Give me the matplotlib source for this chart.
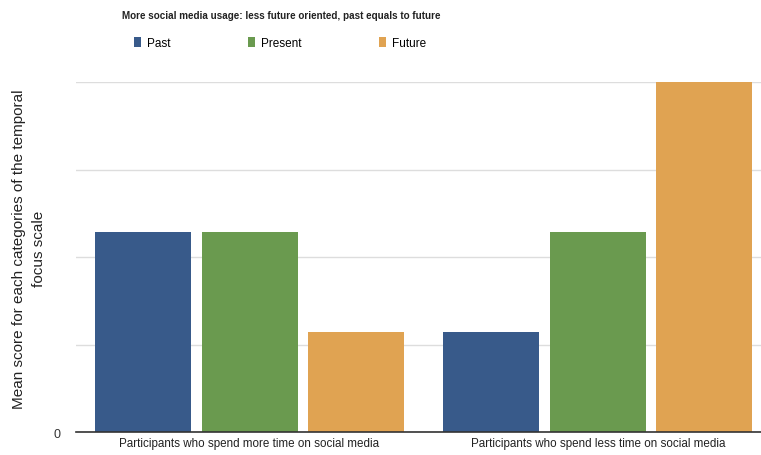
import matplotlib.pyplot as plt
import numpy as np

plt.rcParams['font.family'] = ['Liberation Sans', 'DejaVu Sans']

categories = ['Participants who spend more time on social media',
              'Participants who spend less time on social media']
series_names = ['Past', 'Present', 'Future']
past = [2.29, 1.14]
present = [2.29, 2.29]
future = [1.14, 4.0]
colors = ['#385a8a', '#6a9a4f', '#e0a352']

fig = plt.figure(figsize=(7.61, 4.56), dpi=100)
ax = fig.add_axes([0.0999, 0.0504, 0.9001, 0.767])

x = np.arange(len(categories))
width = 0.2755
offset = 0.3056
for i, (vals, name) in enumerate(zip([past, present, future], series_names)):
    ax.bar(x + (i - 1) * offset, vals, width, color=colors[i], label=name, zorder=2)

ax.set_xlim(-0.498, 1.468)
ax.set_ylim(0, 4.0)
ax.set_yticks([0, 1, 2, 3, 4])
ax.set_yticklabels(['0', '', '', '', ''])
ax.yaxis.grid(True, color='#dddddd', linewidth=1, zorder=0)
ax.tick_params(axis='y', length=0, pad=11, labelsize=9, colors='#333333')
ax.set_xticks(x)
ax.set_xticklabels(categories, fontsize=8.4, color='#222222')
ax.tick_params(axis='x', length=0, pad=3.5)
for s in ['top', 'right', 'left']:
    ax.spines[s].set_visible(False)
ax.spines['bottom'].set_color('#333333')
ax.spines['bottom'].set_linewidth(1.2)
ax.spines['bottom'].set_zorder(3)

fig.text(0.038, 0.454, 'Mean score for each categories of the temporal\nfocus scale',
         rotation=90, ha='center', va='center', fontsize=11, color='#222222',
         linespacing=1.5)

fig.text(0.369, 0.966, 'More social media usage: less future oriented, past equals to future',
         ha='center', va='center', fontsize=7.1, fontweight='bold', color='#222222')

leg = fig.legend(loc='center', bbox_to_anchor=(0.368, 0.904), ncol=3, frameon=False,
                 fontsize=8.5, handlelength=0.6, handleheight=0.9, columnspacing=6.6,
                 handletextpad=0.5)

fig.savefig('out.png', dpi=100)
